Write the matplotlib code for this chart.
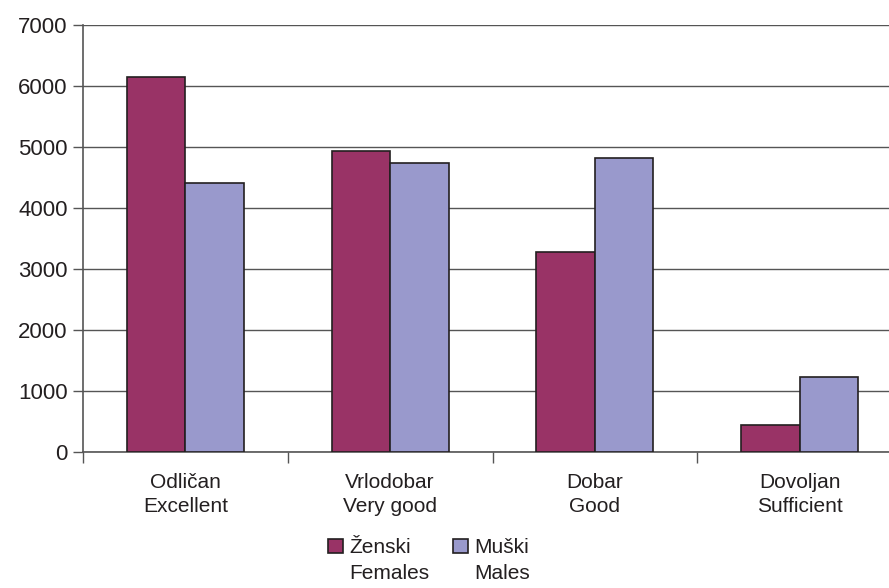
import matplotlib
matplotlib.use("Agg")
import matplotlib.pyplot as plt
from matplotlib.patches import Patch
import numpy as np

plt.rcParams['font.family'] = ['Liberation Sans', 'DejaVu Sans']

categories = ["Odličan\nExcellent", "Vrlodobar\nVery good", "Dobar\nGood", "Dovoljan\nSufficient"]
females = [6150, 4940, 3285, 450]
males = [4410, 4745, 4815, 1235]
series_labels = ["Ženski\nFemales", "Muški\nMales"]
yticks = [0, 1000, 2000, 3000, 4000, 5000, 6000, 7000]

c_f = "#993366"
c_m = "#9999CC"
txt = "#231f20"

fig = plt.figure(figsize=(8.89, 5.88), dpi=100)
ax = fig.add_axes([83/889, (588-452)/588, (902-83)/889, (452-25)/588])

x = np.arange(len(categories))
w = 1/3.5
ax.bar(x - w/2, females, w, color=c_f, edgecolor=txt, linewidth=1.2, zorder=3)
ax.bar(x + w/2, males, w, color=c_m, edgecolor=txt, linewidth=1.2, zorder=3)

ax.set_xlim(-0.5, 3.5)
ax.set_ylim(0, 7000)
ax.set_yticks(yticks)
ax.set_yticklabels([str(v) for v in yticks], fontsize=16, color=txt)
ax.yaxis.grid(True, color="#555555", linewidth=1.0, zorder=0)
ax.set_axisbelow(True)

ax.set_xticks(np.arange(-0.5, 3.6, 1.0))
ax.set_xticklabels([])
ax.set_xticks(x, minor=True)
ax.set_xticklabels(categories, minor=True, fontsize=15, color=txt, linespacing=1.35)
ax.tick_params(axis='x', which='major', length=8, width=1, color="#555555", direction='out')
ax.tick_params(axis='x', which='minor', length=0, pad=15)
ax.tick_params(axis='y', length=7, width=1, color="#555555", pad=4)

for s in ["top", "right"]:
    ax.spines[s].set_visible(False)
for s in ["left", "bottom"]:
    ax.spines[s].set_color("#555555")
    ax.spines[s].set_linewidth(1.2)

handles = [Patch(facecolor=c_f, edgecolor=txt, linewidth=1.2),
           Patch(facecolor=c_m, edgecolor=txt, linewidth=1.2)]
leg = fig.legend(handles, series_labels, loc="upper left",
                 bbox_to_anchor=(328/889, 1 - 538/588), borderaxespad=0, borderpad=0,
                 ncol=2, frameon=False, fontsize=15, handlelength=0.72, handleheight=0.65,
                 handletextpad=0.3, columnspacing=1.15, labelcolor=txt)
for t in leg.get_texts():
    t.set_linespacing(1.45)
for h in leg.legend_handles:
    h.set_y(h.get_y() + 0.5 * 1.45 * 15 * 0.95)

fig.savefig("out.png", dpi=100)
